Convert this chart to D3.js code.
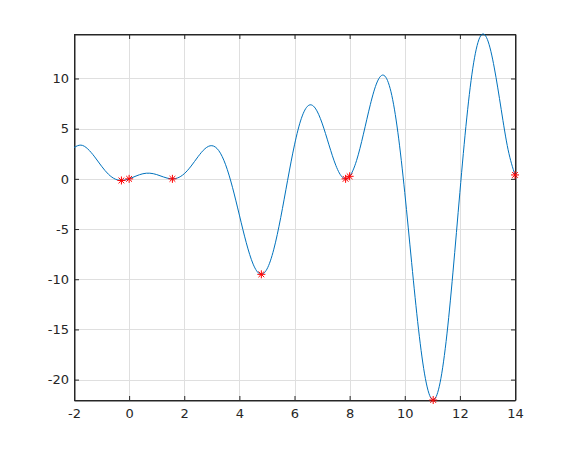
<!DOCTYPE html>
<html><head><meta charset="utf-8">
<script src="https://cdn.jsdelivr.net/npm/d3@7"></script>
<style>
html,body{margin:0;padding:0;background:#fff;}
svg{display:block;}
</style></head>
<body>
<svg id="chart" width="570" height="450"></svg>
<script>
// curve samples (uniform x step 0.25)
const curveX = [-2,-1.75,-1.5,-1.25,-1,-0.75,-0.5,-0.25,0,0.25,0.5,0.75,1,1.25,1.5,1.75,2,2.25,2.5,2.75,3,3.25,3.5,3.75,4,4.25,4.5,4.75,5,5.25,5.5,5.75,6,6.25,6.5,6.75,7,7.25,7.5,7.75,8,8.25,8.5,8.75,9,9.25,9.5,9.75,10,10.25,10.5,10.75,11,11.25,11.5,11.75,12,12.25,12.5,12.75,13,13.25,13.5,13.75,14];
const curveY = [3.126,3.361,2.981,2.188,1.258,0.458,-0.030,-0.158,0,0.281,0.510,0.564,0.425,0.185,0.011,0.083,0.511,1.276,2.206,2.999,3.304,2.822,1.411,-0.844,-3.609,-6.362,-8.499,-9.483,-8.990,-7.006,-3.856,-0.144,3.387,6.029,7.296,7.053,5.556,3.392,1.337,0.125,0.254,1.812,4.448,7.385,9.652,10.303,8.678,4.641,-1.359,-8.346,-14.988,-19.907,-22.0,-20.712,-16.202,-9.290,-1.349,6.067,11.561,14.228,13.872,11.049,6.907,2.900,0.390];
// marked points (red asterisks)
const markX = [-0.28,0,1.5708,4.797,7.854,8.0,11.032,14];
const markY = [-0.16,0,0,-9.51,0,0.254,-22.03,0.39];
// axis limits and ticks
const xLimits = [-2,14];
const yLimits = [-22.03,14.43];
const xTicks = [-2,0,2,4,6,8,10,12,14];
const xTickLabels = ["-2","0","2","4","6","8","10","12","14"];
const yTicks = [-20,-15,-10,-5,0,5,10];
const yTickLabels = ["-20","-15","-10","-5","0","5","10"];

const L=74, R=515, T=34, B=400;
const svg = d3.select("#chart");
const x = d3.scaleLinear().domain(xLimits).range([L,R]);
const y = d3.scaleLinear().domain(yLimits).range([B,T]);

const axisCol = "#262626";
const FONT = "'DejaVu Sans',sans-serif";
const FS = "13px";
// grid
const g = svg.append("g");
g.selectAll(".gx").data(xTicks).enter().append("line")
  .attr("x1",d=>Math.round(x(d))+0.5).attr("x2",d=>Math.round(x(d))+0.5)
  .attr("y1",T).attr("y2",B).attr("stroke","#dfdfdf").attr("stroke-width",1);
g.selectAll(".gy").data(yTicks).enter().append("line")
  .attr("y1",d=>Math.round(y(d))+0.5).attr("y2",d=>Math.round(y(d))+0.5)
  .attr("x1",L).attr("x2",R).attr("stroke","#dfdfdf").attr("stroke-width",1);

// axes (inward ticks, box)
const tl = 4.5;
const ax = svg.append("g").attr("transform",`translate(0,${B+0.5})`)
  .call(d3.axisBottom(x).tickValues(xTicks).tickSizeInner(-tl).tickSizeOuter(0).tickPadding(8)
    .tickFormat((d,i)=>xTickLabels[i]));
const axT = svg.append("g").attr("transform",`translate(0,${T+0.5})`)
  .call(d3.axisTop(x).tickValues(xTicks).tickSizeInner(-tl).tickSizeOuter(0).tickFormat(""));
const ay = svg.append("g").attr("transform",`translate(${L+0.5},0)`)
  .call(d3.axisLeft(y).tickValues(yTicks).tickSizeInner(-tl).tickSizeOuter(0).tickPadding(5.5)
    .tickFormat((d,i)=>yTickLabels[i]));
const ayR = svg.append("g").attr("transform",`translate(${R+0.5},0)`)
  .call(d3.axisRight(y).tickValues(yTicks).tickSizeInner(-tl).tickSizeOuter(0).tickFormat(""));
[ax,axT,ay,ayR].forEach(a=>{
  a.selectAll("path").attr("stroke",axisCol);
  a.selectAll("line").attr("stroke",axisCol);
  a.selectAll("text").attr("font-family",FONT).attr("font-size",FS).attr("fill",axisCol);
});
svg.append("rect").attr("x",L+0.5).attr("y",T+0.5).attr("width",R-L).attr("height",B-T)
  .attr("fill","none").attr("stroke",axisCol).attr("stroke-width",1);

// curve
const pts = curveX.map((v,i)=>[v,curveY[i]]);
svg.append("path").datum(pts)
  .attr("d",d3.line().x(d=>x(d[0])).y(d=>y(d[1])).curve(d3.curveNatural))
  .attr("fill","none").attr("stroke","#0072BD").attr("stroke-width",1);

// asterisk markers
const r = 4;
const mk = svg.append("g");
markX.forEach((v,i)=>{
  const cx = x(v), cy = y(markY[i]);
  const d = r*0.72;
  mk.append("path")
    .attr("d",`M${cx-r},${cy}L${cx+r},${cy}M${cx},${cy-r}L${cx},${cy+r}M${cx-d},${cy-d}L${cx+d},${cy+d}M${cx-d},${cy+d}L${cx+d},${cy-d}`)
    .attr("stroke","#ff0000").attr("stroke-width",1).attr("fill","none");
});
</script>
</body></html>
